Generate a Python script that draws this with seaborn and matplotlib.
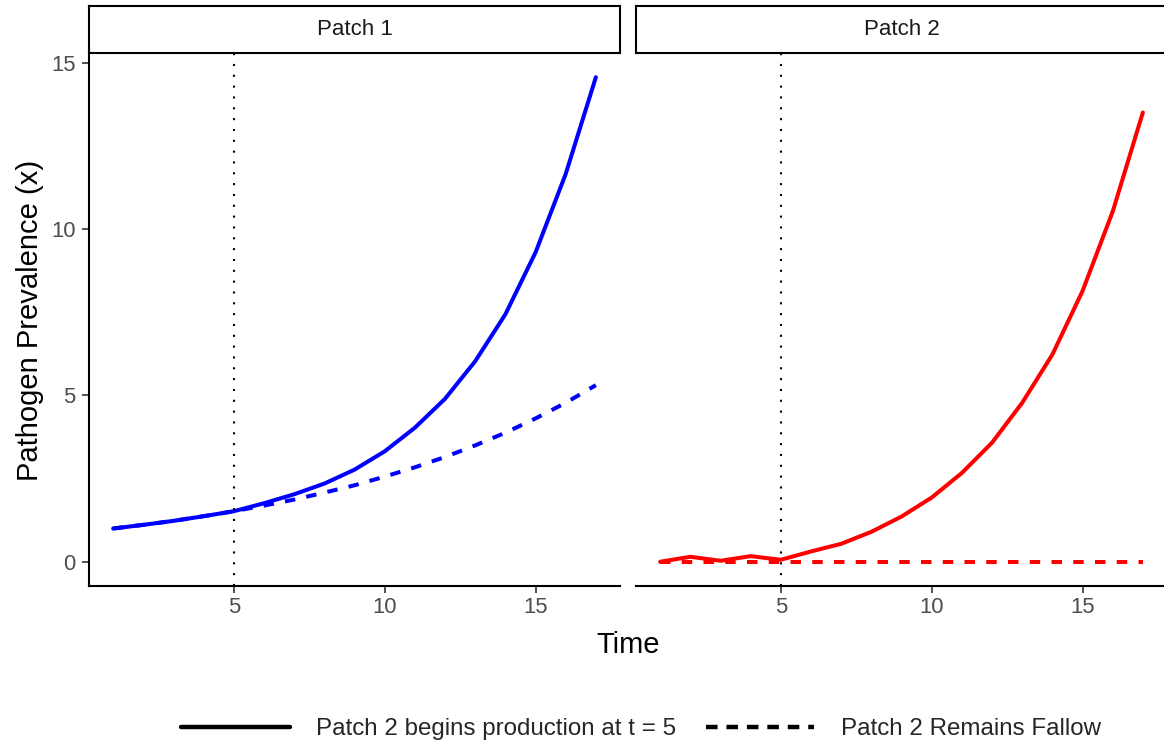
import matplotlib
matplotlib.use("Agg")
import matplotlib.pyplot as plt
from matplotlib.lines import Line2D
import pandas as pd
import seaborn as sns

# ---- data -------------------------------------------------------------
time = list(range(1, 18))
patch1_production = [1.00, 1.11, 1.23, 1.37, 1.52, 1.76, 2.03, 2.35, 2.77,
                     3.32, 4.03, 4.90, 6.03, 7.44, 9.30, 11.66, 14.57]
patch1_fallow = [1.00, 1.11, 1.23, 1.37, 1.52, 1.69, 1.87, 2.08, 2.30,
                 2.56, 2.84, 3.15, 3.50, 3.88, 4.31, 4.78, 5.31]
patch2_production = [0.00, 0.15, 0.03, 0.17, 0.06, 0.31, 0.54, 0.90, 1.36,
                     1.93, 2.67, 3.58, 4.78, 6.23, 8.14, 10.53, 13.51]
patch2_fallow = [0.00, 0.00, 0.00, 0.00, 0.00, 0.00, 0.00, 0.00, 0.00,
                 0.00, 0.00, 0.00, 0.00, 0.00, 0.00, 0.00, 0.00]

panel_titles = ["Patch 1", "Patch 2"]
scenario_labels = ["Patch 2 begins production at t = 5", "Patch 2 Remains Fallow"]
panel_colors = ["#0000FF", "#FF0000"]
switch_time = 5
x_ticks = [5, 10, 15]
y_ticks = [0, 5, 10, 15]

records = []
for panel, prod, fallow in zip(panel_titles,
                               [patch1_production, patch2_production],
                               [patch1_fallow, patch2_fallow]):
    for scen, vals in zip(scenario_labels, [prod, fallow]):
        for t, v in zip(time, vals):
            records.append({"Patch": panel, "Scenario": scen,
                            "Time": t, "Prevalence": v})
df = pd.DataFrame(records)

# ---- style ------------------------------------------------------------
sns.set_theme(style="ticks")
plt.rcParams["font.family"] = ["Liberation Sans", "DejaVu Sans"]

W, H = 1164, 744
fig = plt.figure(figsize=(W / 100, H / 100), dpi=100)


def box(x0, y0, x1, y1):
    """Pixel rectangle (top-left origin) -> figure fraction rect."""
    return [x0 / W, 1 - y1 / H, (x1 - x0) / W, (y1 - y0) / H]


panel_boxes = [(89, 53, 620, 586), (636, 53, 1167, 586)]
strip_boxes = [(89, 6, 620, 53), (636, 6, 1167, 53)]

dash_spec = (2.6, 2.8)
line_w = 2.9
tick_grey = "#4D4D4D"

ymin = min(df["Prevalence"])
ymax = max(df["Prevalence"])
ypad = 0.05 * (ymax - ymin)
xpad = 0.05 * (max(time) - min(time))

for i, (panel, color) in enumerate(zip(panel_titles, panel_colors)):
    ax = fig.add_axes(box(*panel_boxes[i]))
    sub = df[df["Patch"] == panel]
    sns.lineplot(data=sub, x="Time", y="Prevalence", style="Scenario",
                 style_order=scenario_labels,
                 dashes={scenario_labels[0]: "", scenario_labels[1]: dash_spec},
                 color=color, linewidth=line_w, legend=False, ax=ax)
    ax.axvline(switch_time, color="black", linewidth=1.5,
               linestyle=(0, (1.0, 4.2)), zorder=3)

    ax.set_xlim(min(time) - xpad, max(time) + xpad)
    ax.set_ylim(ymin - ypad, ymax + ypad)
    ax.set_xticks(x_ticks)
    ax.set_yticks(y_ticks)
    ax.set_xlabel("")
    ax.set_ylabel("")
    ax.set_facecolor("white")
    for s in ["top", "right"]:
        ax.spines[s].set_visible(False)
    ax.spines["bottom"].set_linewidth(1.5)
    ax.spines["bottom"].set_color("black")
    ax.spines["left"].set_linewidth(1.5)
    ax.spines["left"].set_color("black")
    ax.tick_params(axis="both", length=5, width=1.2, color="#333333",
                   labelsize=15.8, labelcolor=tick_grey)
    ax.tick_params(axis="x", pad=3)
    ax.tick_params(axis="y", pad=4.5)
    if i > 0:
        ax.spines["left"].set_visible(False)
        ax.tick_params(axis="y", left=False, labelleft=False)

    # facet strip
    sax = fig.add_axes(box(*strip_boxes[i]))
    sax.set_xticks([])
    sax.set_yticks([])
    sax.set_facecolor("white")
    for s in sax.spines.values():
        s.set_visible(True)
        s.set_color("black")
        s.set_linewidth(1.5)
    sax.text(0.5, 0.5, panel, ha="center", va="center",
             fontsize=16, color="#1A1A1A", transform=sax.transAxes)

fig.text(628 / W, 1 - 645 / H, "Time", ha="center", va="center",
         fontsize=21, color="black")
fig.text(30 / W, 1 - 320 / H, "Pathogen Prevalence (x)", ha="center",
         va="center", rotation=90, fontsize=21, color="black")

handles = [Line2D([], [], color="black", linewidth=3.2, linestyle="-"),
           Line2D([], [], color="black", linewidth=3.2,
                  linestyle=(0, (2.6, 2.0)))]
fig.legend(handles, scenario_labels, loc="center", ncol=2,
           bbox_to_anchor=(641 / W, 1 - 729 / H), frameon=False,
           fontsize=17.4, handlelength=4.5, handletextpad=1.1,
           columnspacing=1.2)

fig.savefig("out.png", dpi=100, facecolor="white")
